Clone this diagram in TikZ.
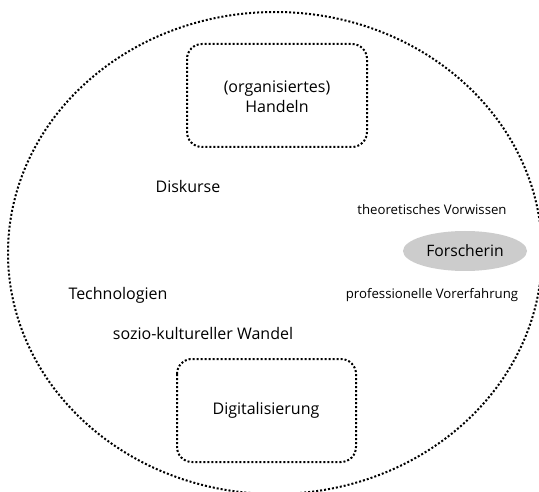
\documentclass[tikz,border=0pt]{standalone}
\usepackage{fontspec}
\setmainfont{Open Sans}
\usetikzlibrary{shapes.geometric}
\begin{document}
\begin{tikzpicture}[x=1pt,y=-1pt,
  dotline/.style={line width=2pt, dash pattern=on 2pt off 2pt},
  framebox/.style={draw, dotline, rounded corners=15pt, align=center},
  txt/.style={font=\fontsize{16}{20}\selectfont, inner sep=0pt},
  smalltxt/.style={font=\fontsize{13.2}{16}\selectfont, inner sep=0pt}]
  \useasboundingbox (0,0) rectangle (539,492);
  \begin{scope}
    \clip (0,0) rectangle (539,492);
    \draw[dotline] (275,253) ellipse [x radius=267, y radius=241];
  \end{scope}
  % boxes
  \draw[framebox] (187,44) rectangle (367,147);
  \node[txt, align=center] (handeln) at (277,97) {(organisiertes)\\Handeln};
  \draw[framebox] (177,359) rectangle (356,462);
  \node[txt] (digi) at (266,410) {Digitalisierung};
  % terms
  \node[txt] (diskurse) at (188,187) {Diskurse};
  \node[txt] (tech) at (118,295) {Technologien};
  \node[txt] (wandel) at (203,333) {sozio-kultureller Wandel};
  \node[smalltxt] (vorwissen) at (432,210) {theoretisches Vorwissen};
  \node[smalltxt] (vorerf) at (432,295) {professionelle Vorerfahrung};
  \node[ellipse, fill=black!20, minimum width=124pt, minimum height=40pt, inner sep=0pt,
        font=\fontsize{15.7}{19}\selectfont] (forscherin) at (465,251) {Forscherin};
\end{tikzpicture}
\end{document}
